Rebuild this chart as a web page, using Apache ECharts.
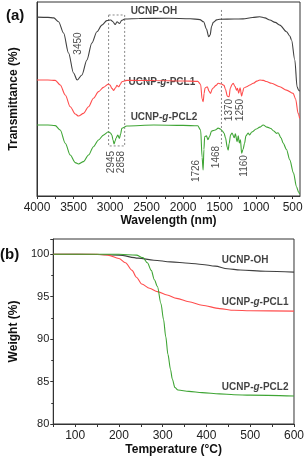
<!DOCTYPE html>
<html><head><meta charset="utf-8">
<script src="https://cdn.jsdelivr.net/npm/echarts@6/dist/echarts.min.js"></script>
<style>html,body{margin:0;padding:0;background:#fff}#c{width:307px;height:458px}</style>
</head><body><div id="c"></div>
<script>
// ---- FTIR (panel a): [wavenumber, transmittance (a.u.)]
var ftirOH = [[4000,92.2],[3850,92.1],[3770,91.8],[3705,89.8],[3636,84.0],[3568,73.7],[3500,63.4],[3450,59.8],[3385,62.4],[3317,70.1],[3249,78.9],[3180,84.7],[3112,88.1],[3044,90.4],[2990,90.7],[2960,89.8],[2930,88.4],[2905,89.8],[2870,88.9],[2840,90.6],[2800,91.2],[2600,91.5],[2200,91.6],[1900,91.4],[1770,90.9],[1720,89.8],[1680,86.0],[1650,82.1],[1630,83.0],[1610,87.5],[1587,89.5],[1540,90.8],[1496,91.1],[1300,91.2],[1180,91.3],[1050,92.0],[950,92.4],[880,91.8],[813,90.7],[740,89.5],[676,88.1],[585,84.7],[540,82.5],[516,80.4],[471,70.1],[440,56.3],[420,54.6],[405,54]];
var ftirPCL1 = [[4000,59.8],[3850,59.8],[3750,59.6],[3682,57.2],[3613,52.1],[3545,46.0],[3477,42.3],[3432,41.2],[3363,42.6],[3295,46.0],[3227,50.4],[3158,53.8],[3090,56.0],[3022,57.7],[3000,57.2],[2975,55.5],[2950,54.4],[2925,55.8],[2907,57.0],[2880,56.3],[2860,57.6],[2839,58.9],[2770,59.6],[2400,59.5],[2000,59.3],[1800,59.1],[1760,57.5],[1740,50.0],[1726,48.6],[1712,53.0],[1700,55.7],[1669,56.3],[1645,54.0],[1625,52.9],[1600,55.2],[1587,55.7],[1550,57.0],[1519,58.1],[1473,57.7],[1440,57.0],[1420,55.0],[1395,51.5],[1370,51.2],[1355,55.5],[1330,57.5],[1314,58.1],[1290,56.5],[1268,54.6],[1255,55.5],[1240,53.0],[1220,55.8],[1199,51.5],[1185,53.5],[1170,55.7],[1131,56.3],[1086,57.2],[1041,58.1],[990,59.2],[949,59.8],[900,59.6],[860,59.0],[790,58.1],[676,56.3],[585,54.6],[494,52.9],[460,50.0],[426,42.6],[405,40]];
var ftirPCL2 = [[4000,36.6],[3850,36.6],[3750,36.3],[3682,34.0],[3613,27.2],[3545,21.1],[3477,17.2],[3432,16.5],[3363,17.7],[3295,21.1],[3227,25.4],[3158,28.9],[3090,31.4],[3022,33.1],[2995,32.5],[2975,31.4],[2960,29.0],[2945,26.8],[2930,28.5],[2917,29.9],[2894,31.4],[2872,29.7],[2855,32.0],[2839,34.9],[2770,36.1],[2400,36.6],[2000,36.4],[1800,36.2],[1760,34.0],[1740,20.0],[1726,13.4],[1715,24.0],[1705,30.6],[1680,31.0],[1660,29.0],[1640,30.5],[1610,33.5],[1560,34.0],[1520,35.0],[1490,34.5],[1468,33.8],[1440,32.5],[1420,30.0],[1395,25.0],[1383,23.7],[1370,27.0],[1350,31.5],[1330,32.5],[1300,30.0],[1285,32.0],[1260,28.0],[1245,31.0],[1230,27.3],[1215,29.0],[1199,22.0],[1180,24.0],[1160,27.0],[1140,31.0],[1110,32.5],[1090,31.5],[1060,33.0],[1000,34.5],[950,35.5],[904,36.6],[850,35.5],[800,34.8],[760,33.5],[721,32.3],[700,32.6],[660,30.0],[631,27.3],[585,24.0],[540,18.6],[490,12.0],[448,4.8],[420,2.1],[405,1.0]];
var ftirTicks = [4000,3750,3500,3250,3000,2750,2500,2250,2000,1750,1500,1250,1000,750,500];
var ftirLabels = [4000,3500,3000,2500,2000,1500,1000,500];
var ftirPeaks = [[3436,78.6,'3450'],[2985,17.5,'2945'],[2848,17.5,'2858'],[1817,12.9,'1726'],[1544,20.1,'1468'],[1168,15.5,'1160'],[1373,44.3,'1370'],[1223,44.3,'1250']];
var ftirNames = [[2725,95.4,'UCNP-OH'],[2753,58.5,'UCNP-g-PCL1'],[2725,40.5,'UCNP-g-PCL2']];
var dashBox = [[3020,93.3],[2800,93.3],[2800,25.8],[3020,25.8],[3020,93.3]];
var dashLine = [[1475,95.9],[1475,25.3]];

// ---- TGA (panel b): [temperature °C, weight %]
var tgaOH = [[50,100],[150,99.98],[200,99.9],[244,99.55],[280,99.3],[318,99.1],[360,98.95],[390,98.8],[420,98.6],[448,98.3],[477,98.15],[535,98.0],[600,97.9]];
var tgaPCL1 = [[50,100],[150,100],[175,99.9],[200,99.5],[215,99.0],[230,98.1],[240,97.3],[252,96.5],[270,96.0],[288,95.6],[310,95.2],[332,94.8],[360,94.4],[390,94.0],[430,93.6],[463,93.4],[500,93.35],[600,93.3]];
var tgaPCL2 = [[50,100],[200,100],[240,99.9],[255,99.6],[265,99.0],[274,98.1],[281,97.0],[288,96.2],[296,94.2],[302,92.3],[307,90.3],[312,88.2],[318,86.4],[322,85.3],[328,84.3],[335,84.0],[360,83.85],[390,83.7],[430,83.55],[463,83.45],[500,83.4],[600,83.3]];
var tgaTicks = [50,100,150,200,250,300,350,400,450,500,550,600];
var tgaLabels = [100,200,300,400,500,600];
var tgaNames = [[434,99.3,'UCNP-OH'],[434,94.35,'UCNP-g-PCL1'],[434,84.35,'UCNP-g-PCL2']];

var FONT = 'Liberation Sans, Arial, sans-serif';
var cBlack = '#404040', cRed = '#ff4d4d', cGreen = '#3fa535';
function plain(v){ return String(v); }

function nameLabel(p){ return p.value[2].replace('-g-','-{i|g}-'); }
var nameLabelStyle = {show:true, position:'right', distance:0, formatter:nameLabel, fontFamily:FONT, fontSize:10, fontWeight:'bold', color:'#111',
  rich:{i:{fontStyle:'italic', fontWeight:'bold', fontSize:10, fontFamily:FONT, color:'#111'}}};

var chart = echarts.init(document.getElementById('c'), null, {renderer:'canvas'});
chart.setOption({
  animation:false,
  backgroundColor:'#fff',
  graphic:[
    {type:'text', left:6, top:8, style:{text:'(a)', font:'bold 15px '+FONT, fill:'#111'}},
    {type:'text', left:0, top:247, style:{text:'(b)', font:'bold 15px '+FONT, fill:'#111'}}
  ],
  grid:[
    {left:36, right:7, top:2, height:194, show:true, borderColor:'#333', borderWidth:1},
    {left:43, right:11, top:239, height:185, show:true, borderColor:'#333', borderWidth:1}
  ],
  xAxis:[
    {gridIndex:0, type:'value', min:400, max:4000, inverse:true,
     axisLine:{lineStyle:{color:'#333'}},
     axisTick:{show:true, length:3, customValues:ftirTicks, lineStyle:{color:'#333'}},
     axisLabel:{customValues:ftirLabels, formatter:plain, margin:6, fontSize:12, fontFamily:FONT, color:'#222'},
     splitLine:{show:false},
     name:'Wavelength (nm)', nameLocation:'middle', nameGap:18,
     nameTextStyle:{fontSize:12, fontWeight:'bold', fontFamily:FONT, color:'#111'}},
    {gridIndex:1, type:'value', min:50, max:600,
     axisLine:{lineStyle:{color:'#333'}},
     axisTick:{show:true, length:3, customValues:tgaTicks, lineStyle:{color:'#333'}},
     axisLabel:{customValues:tgaLabels, formatter:plain, margin:6, fontSize:12, fontFamily:FONT, color:'#222'},
     splitLine:{show:false},
     name:'Temperature (°C)', nameLocation:'middle', nameGap:20,
     nameTextStyle:{fontSize:12, fontWeight:'bold', fontFamily:FONT, color:'#111'}}
  ],
  yAxis:[
    {gridIndex:0, type:'value', min:0, max:100,
     axisLine:{show:true, lineStyle:{color:'#333'}}, axisTick:{show:false}, axisLabel:{show:false}, splitLine:{show:false},
     name:'Transmittance (%)', nameLocation:'middle', nameGap:17,
     nameTextStyle:{fontSize:12, fontWeight:'bold', fontFamily:FONT, color:'#111'}},
    {gridIndex:1, type:'value', min:80, max:101.8, interval:5,
     axisLine:{show:true, lineStyle:{color:'#333'}},
     axisTick:{show:true, length:3, lineStyle:{color:'#333'}},
     minorTick:{show:true, splitNumber:2, length:2, lineStyle:{color:'#333'}},
     axisLabel:{formatter:plain, margin:4, fontSize:11, fontFamily:FONT, color:'#222', showMaxLabel:false},
     splitLine:{show:false},
     name:'Weight (%)', nameLocation:'middle', nameGap:25,
     nameTextStyle:{fontSize:12, fontWeight:'bold', fontFamily:FONT, color:'#111'}}
  ],
  series:[
    {type:'line', xAxisIndex:0, yAxisIndex:0, data:dashBox, showSymbol:false, silent:true, lineStyle:{color:'#888', width:1, type:[2,2]}},
    {type:'line', xAxisIndex:0, yAxisIndex:0, data:dashLine, showSymbol:false, silent:true, lineStyle:{color:'#888', width:1, type:[2,2]}},
    {type:'line', xAxisIndex:0, yAxisIndex:0, data:ftirOH, showSymbol:false, smooth:0.3, smoothMonotone:'x', lineStyle:{color:cBlack, width:1.1}},
    {type:'line', xAxisIndex:0, yAxisIndex:0, data:ftirPCL1, showSymbol:false, smooth:0.3, smoothMonotone:'x', lineStyle:{color:cRed, width:1.1}},
    {type:'line', xAxisIndex:0, yAxisIndex:0, data:ftirPCL2, showSymbol:false, smooth:0.3, smoothMonotone:'x', lineStyle:{color:cGreen, width:1.1}},
    {type:'scatter', xAxisIndex:0, yAxisIndex:0, data:ftirPeaks, symbolSize:1, itemStyle:{color:'rgba(0,0,0,0)'},
     label:{show:true, position:'inside', rotate:90, formatter:function(p){return p.value[2];}, fontFamily:FONT, fontSize:10, color:'#222'}},
    {type:'scatter', xAxisIndex:0, yAxisIndex:0, data:ftirNames, symbolSize:1, itemStyle:{color:'rgba(0,0,0,0)'}, label:nameLabelStyle},
    {type:'line', xAxisIndex:1, yAxisIndex:1, data:tgaOH, showSymbol:false, smooth:0.3, smoothMonotone:'x', lineStyle:{color:cBlack, width:1.1}},
    {type:'line', xAxisIndex:1, yAxisIndex:1, data:tgaPCL1, showSymbol:false, smooth:0.3, smoothMonotone:'x', lineStyle:{color:cRed, width:1.1}},
    {type:'line', xAxisIndex:1, yAxisIndex:1, data:tgaPCL2, showSymbol:false, smooth:0.3, smoothMonotone:'x', lineStyle:{color:cGreen, width:1.1}},
    {type:'scatter', xAxisIndex:1, yAxisIndex:1, data:tgaNames, symbolSize:1, itemStyle:{color:'rgba(0,0,0,0)'}, label:nameLabelStyle}
  ]
});
</script></body></html>
